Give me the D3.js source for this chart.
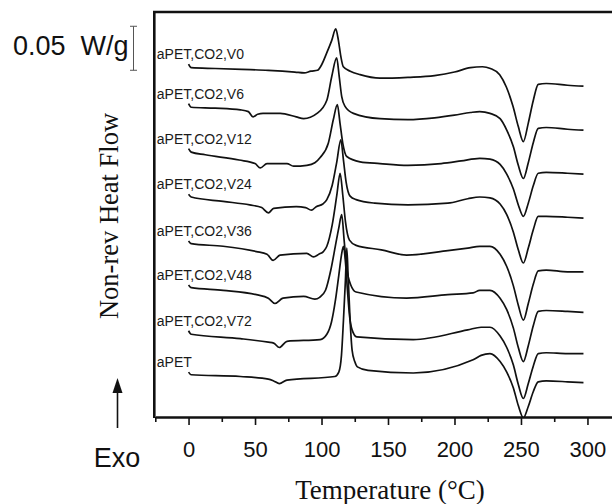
<!DOCTYPE html>
<html>
<head>
<meta charset="utf-8">
<script src="https://cdn.jsdelivr.net/npm/d3@7/dist/d3.min.js"></script>
<style>
  body { margin: 0; background: #fff; }
  svg { display: block; }
</style>
</head>
<body>
<svg id="chart" width="612" height="504"></svg>
<script>
// Non-reversing heat flow traces (W/g, stacked with vertical offsets) vs temperature (°C)
const seriesNames = ["aPET,CO2,V0", "aPET,CO2,V6", "aPET,CO2,V12", "aPET,CO2,V24",
                     "aPET,CO2,V36", "aPET,CO2,V48", "aPET,CO2,V72", "aPET"];

const majorTicks = [0, 50, 100, 150, 200, 250, 300];
const minorTicks = [-25, 25, 75, 125, 175, 225, 275];

const scaleBarValue = 0.05;      // W/g
const scaleBarBase = 0.394;      // W/g level where the bar starts

const V0 = [[0,0.401],[2,0.397],[20,0.396],[40,0.395],[60,0.394],[80,0.392],[87,0.391],[92,0.393],[97,0.394],
  [100,0.400],[104,0.414],[107.7,0.428],[110.7,0.441],[112.7,0.428],[114.5,0.410],[116.4,0.398],[121.6,0.393],
  [129,0.389],[144,0.385],[165,0.386],[185,0.388],[200,0.392],[212,0.397],[221,0.398],[227,0.396],[234,0.389],
  [239,0.375],[244,0.353],[248,0.330],[251.8,0.313],[255.5,0.334],[259.3,0.360],[263,0.378],[269,0.379],
  [285,0.377],[297,0.376]];

const V6 = [[0,0.356],[2,0.352],[20,0.351],[39,0.349],[45,0.347],[48.5,0.341],[52,0.344],[56,0.345],[69,0.345],
  [81,0.341],[86.6,0.339],[96.6,0.345],[104,0.360],[107.7,0.387],[111.4,0.408],[113.3,0.387],[115.2,0.364],
  [117.7,0.353],[124,0.345],[144,0.339],[165,0.338],[185,0.340],[200,0.343],[212,0.346],[219,0.347],
  [226.7,0.345],[234.3,0.339],[239.3,0.326],[244.3,0.307],[248,0.286],[251.8,0.271],[255.5,0.289],
  [259.3,0.312],[263,0.328],[269,0.329],[285,0.327],[297,0.326]];

const V12 = [[0,0.305],[2,0.301],[12.6,0.298],[38,0.292],[50,0.288],[54,0.283],[59,0.288],[74,0.288],[79,0.285],
  [89,0.286],[95,0.289],[99,0.295],[105.1,0.311],[108.9,0.338],[111.9,0.355],[113.9,0.334],[116,0.311],
  [119,0.296],[129,0.290],[144,0.288],[165,0.286],[190,0.288],[205,0.291],[219,0.294],[226.7,0.293],
  [234.3,0.287],[239.3,0.276],[244.3,0.259],[248,0.241],[251.8,0.228],[255.5,0.243],[259.3,0.263],
  [263,0.277],[269,0.278],[285,0.277],[297,0.276]];

const V24 = [[0,0.253],[2,0.250],[26,0.245],[46,0.241],[55,0.238],[60,0.232],[64,0.237],[81,0.239],[88,0.238],
  [92.4,0.235],[96,0.239],[101,0.242],[104,0.247],[108,0.263],[111.5,0.290],[114.5,0.315],[116.5,0.292],
  [118.5,0.267],[121.5,0.251],[126,0.247],[140,0.243],[165,0.241],[195,0.243],[210,0.248],[219,0.250],
  [226.7,0.249],[234.3,0.242],[239.3,0.230],[244.3,0.210],[248,0.190],[251.8,0.175],[255.5,0.192],
  [259.3,0.213],[263,0.228],[269,0.228],[285,0.227],[297,0.226]];

const V36 = [[0,0.200],[2,0.197],[26,0.194],[51,0.188],[59,0.185],[63.6,0.178],[68.8,0.184],[88.9,0.186],
  [94,0.182],[98,0.185],[101.4,0.188],[104,0.194],[108,0.218],[111.5,0.252],[114,0.277],[116,0.252],
  [118,0.222],[121,0.201],[126,0.195],[145,0.190],[164,0.184],[195,0.189],[210,0.192],[219,0.194],
  [226.7,0.194],[234.3,0.185],[239.3,0.171],[244.3,0.149],[248,0.127],[251.8,0.110],[255.5,0.129],
  [259.3,0.151],[263,0.166],[269,0.167],[285,0.165],[297,0.165]];

const V48 = [[0,0.150],[2,0.147],[26,0.144],[51,0.139],[60,0.135],[65,0.129],[71,0.135],[86.6,0.137],[95,0.134],
  [98.6,0.136],[103,0.144],[107,0.167],[110.5,0.195],[113,0.215],[115.2,0.230],[117,0.201],[119,0.169],
  [122,0.150],[126,0.142],[164,0.135],[195,0.139],[214,0.141],[219,0.144],[226.7,0.144],[234.3,0.135],
  [239.3,0.122],[244.3,0.101],[248,0.079],[251.8,0.063],[255.5,0.081],[259.3,0.104],[263,0.120],
  [269,0.121],[285,0.120],[297,0.119]];

const V72 = [[0,0.098],[2,0.094],[39,0.089],[60,0.085],[64,0.084],[68.3,0.079],[74,0.086],[99,0.088],[104,0.094],
  [107.5,0.108],[110.5,0.133],[113,0.161],[115,0.184],[116.5,0.194],[118,0.176],[119.5,0.144],[121,0.116],
  [123,0.099],[126.5,0.091],[169,0.088],[210,0.099],[220,0.102],[226.7,0.102],[234.3,0.092],[239.3,0.079],
  [244.3,0.059],[248,0.037],[251.8,0.021],[255.5,0.038],[259.3,0.058],[263,0.072],[269,0.073],
  [285,0.072],[297,0.072]];

const APET = [[0,0.051],[2,0.048],[39,0.046],[60,0.043],[64,0.041],[68.3,0.038],[74,0.042],[110,0.046],
  [113,0.051],[115,0.070],[116.5,0.110],[118,0.156],[119,0.192],[120,0.161],[121.5,0.110],[123,0.076],
  [125,0.063],[127,0.057],[135,0.053],[169,0.050],[214,0.065],[220,0.070],[226.7,0.072],[234.3,0.063],
  [239.3,0.051],[244.3,0.033],[248,0.013],[251.8,-0.001],[255.5,0.012],[259.3,0.029],[263,0.040],
  [269,0.041],[285,0.040],[297,0.039]];

const allSeries = [V0, V6, V12, V24, V36, V48, V72, APET];

const svg = d3.select("#chart");
const plotLeft = 155.3, plotTop = 12, plotBottom = 417;

const x = d3.scaleLinear().domain([-25, 325]).range([plotLeft, 620.7]);
const y = d3.scaleLinear().domain([0, 0.46]).range([plotBottom, 12.2]);

svg.append("defs").append("clipPath").attr("id", "plotClip")
  .append("rect").attr("x", plotLeft).attr("y", plotTop)
  .attr("width", 612 - plotLeft).attr("height", plotBottom - plotTop);

// Traces
const line = d3.line()
  .x(d => x(d[0]))
  .y(d => y(d[1]))
  .curve(d3.curveMonotoneX);

svg.append("g").attr("clip-path", "url(#plotClip)")
  .selectAll("path").data(allSeries).join("path")
  .attr("d", line)
  .attr("fill", "none")
  .attr("stroke", "#111")
  .attr("stroke-width", 1.7)
  .attr("stroke-linejoin", "round");

// Series labels just above each trace start
svg.append("g").selectAll("text").data(allSeries).join("text")
  .attr("x", plotLeft + 1.5)
  .attr("y", d => y(d[0][1]) - 5)
  .attr("font-family", "Arial, 'Liberation Sans', sans-serif")
  .attr("font-size", 14)
  .attr("fill", "#1a1a1a")
  .text((d, i) => seriesNames[i]);

// Bottom axis: major ticks with labels, minor ticks without
const axisMajor = d3.axisBottom(x).tickValues(majorTicks).tickSize(8).tickSizeOuter(0).tickPadding(16);
const gx = svg.append("g").attr("transform", `translate(0,${plotBottom})`).call(axisMajor);
gx.select(".domain").attr("stroke", "#111").attr("stroke-width", 2.6);
gx.selectAll(".tick line").attr("stroke", "#111").attr("stroke-width", 1.6);
gx.selectAll(".tick text")
  .attr("font-family", "Arial, 'Liberation Sans', sans-serif")
  .attr("font-size", 22)
  .attr("fill", "#111");

const axisMinor = d3.axisBottom(x).tickValues(minorTicks).tickSize(5).tickSizeOuter(0).tickFormat("");
const gm = svg.append("g").attr("transform", `translate(0,${plotBottom})`).call(axisMinor);
gm.select(".domain").remove();
gm.selectAll(".tick line").attr("stroke", "#111").attr("stroke-width", 1.6);

// Frame: left and top edges
svg.append("line").attr("x1", plotLeft - 1).attr("x2", plotLeft - 1)
  .attr("y1", plotTop).attr("y2", plotBottom + 1)
  .attr("stroke", "#111").attr("stroke-width", 2.6);
svg.append("line").attr("x1", plotLeft - 2.3).attr("x2", 612)
  .attr("y1", plotTop).attr("y2", plotTop)
  .attr("stroke", "#111").attr("stroke-width", 2.6);

// Scale bar for 0.05 W/g
const barX = 133.5;
const barTop = y(scaleBarBase + scaleBarValue), barBot = y(scaleBarBase);
const bar = svg.append("g").attr("stroke", "#555").attr("stroke-width", 1);
bar.append("line").attr("x1", barX).attr("x2", barX).attr("y1", barTop).attr("y2", barBot);
bar.append("line").attr("x1", barX - 3.5).attr("x2", barX + 3.5).attr("y1", barTop).attr("y2", barTop);
bar.append("line").attr("x1", barX - 3.5).attr("x2", barX + 3.5).attr("y1", barBot).attr("y2", barBot);

svg.append("text")
  .attr("x", 13).attr("y", 55)
  .attr("font-family", "Arial, 'Liberation Sans', sans-serif")
  .attr("font-size", 27)
  .attr("fill", "#111")
  .style("white-space", "pre")
  .text("0.05  W/g");

// Y axis title
svg.append("text")
  .attr("transform", "translate(118,216) rotate(-90)")
  .attr("text-anchor", "middle")
  .attr("font-family", "'Liberation Serif', 'Times New Roman', serif")
  .attr("font-size", 26.5)
  .attr("fill", "#111")
  .text("Non-rev Heat Flow");

// Exo arrow
svg.append("line").attr("x1", 117.5).attr("x2", 117.5).attr("y1", 428).attr("y2", 390)
  .attr("stroke", "#111").attr("stroke-width", 1.6);
svg.append("path")
  .attr("d", d3.line()([[117.5, 378], [112.5, 393], [122.5, 393]]) + "Z")
  .attr("fill", "#111");
svg.append("text")
  .attr("x", 117).attr("y", 467)
  .attr("text-anchor", "middle")
  .attr("font-family", "Arial, 'Liberation Sans', sans-serif")
  .attr("font-size", 27)
  .attr("fill", "#111")
  .text("Exo");

// X axis title
svg.append("text")
  .attr("x", 390).attr("y", 499)
  .attr("text-anchor", "middle")
  .attr("font-family", "'Liberation Serif', 'Times New Roman', serif")
  .attr("font-size", 27)
  .attr("fill", "#111")
  .text("Temperature (°C)");
</script>
</body>
</html>
